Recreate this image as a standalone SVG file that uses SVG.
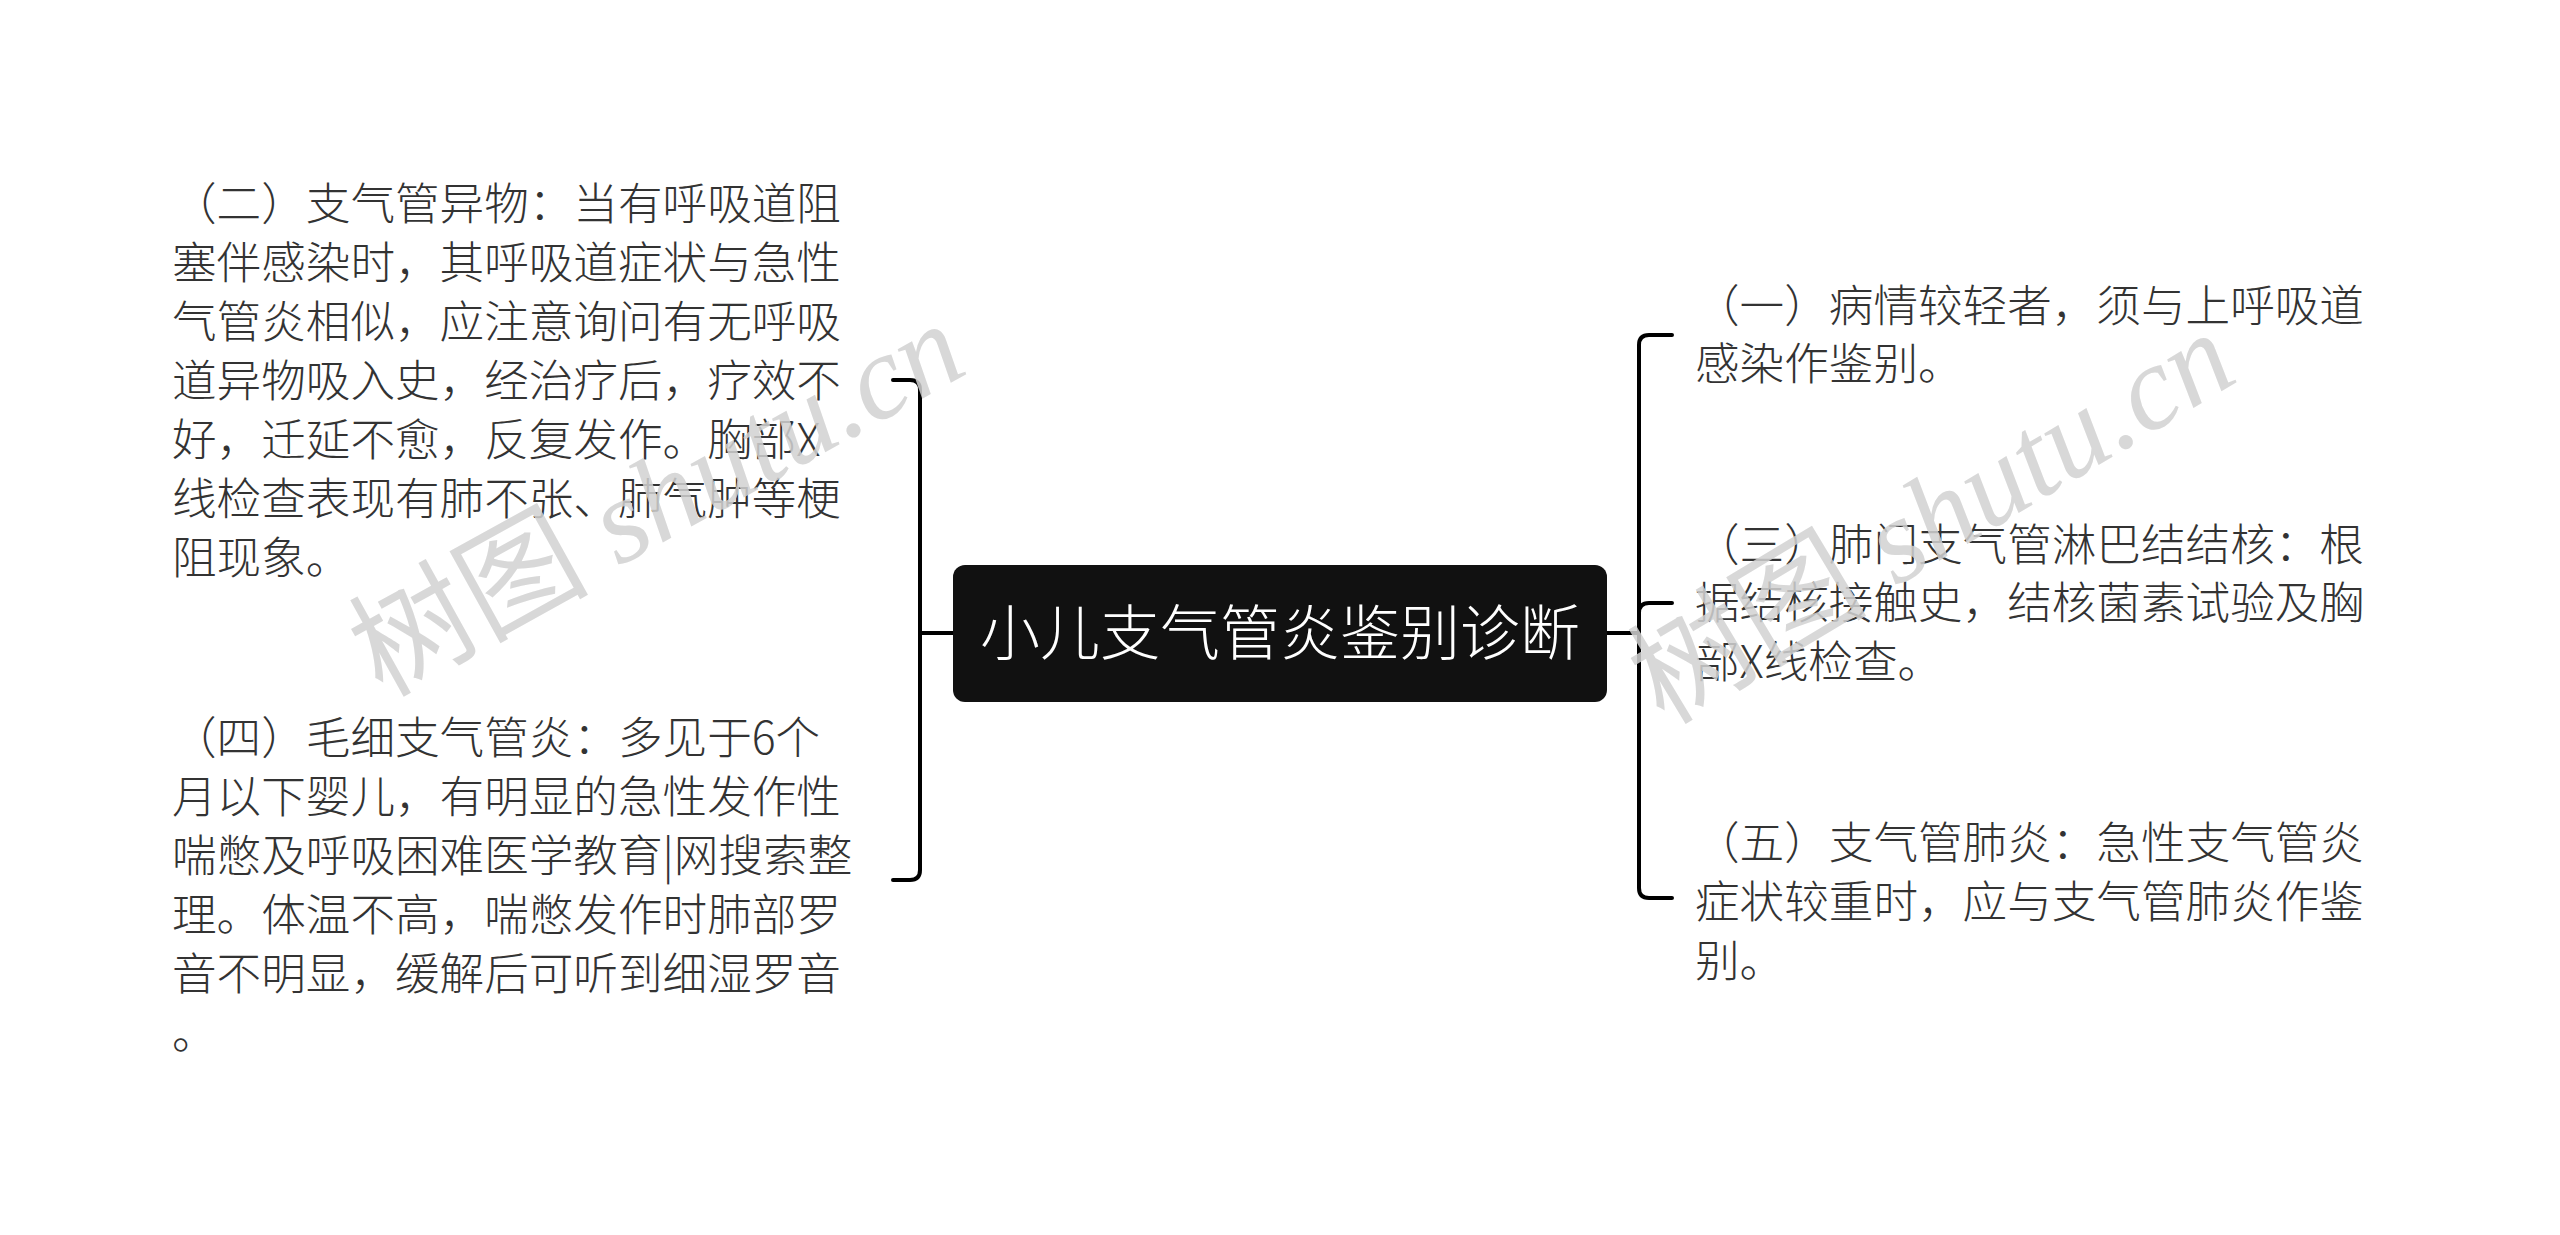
<svg xmlns="http://www.w3.org/2000/svg" width="2560" height="1235" viewBox="0 0 2560 1235">
<style>
.t{font-family:"Noto Sans CJK SC","Noto Sans",sans-serif;font-size:44.6px;font-weight:300;fill:#333333}
.c{font-family:"Noto Sans CJK SC","Noto Sans",sans-serif;font-size:60px;font-weight:300;fill:#ffffff}
.wm{font-family:"Liberation Serif","Noto Sans CJK SC",serif;font-size:120px;fill:#d2d2d2;opacity:0.85}
.wi{font-style:italic}
.ln{fill:none;stroke:#000000;stroke-width:4;stroke-linecap:round}
</style>
<rect width="2560" height="1235" fill="#ffffff"/>
<g id="connectors">
<path class="ln" d="M953,633 H920 M920,633 V390 Q920,380 910,380 H893 M920,633 V870 Q920,880 910,880 H893"/>
<path class="ln" d="M1607,633 H1639 M1639,633 V345 Q1639,335 1649,335 H1672 M1639,633 V613 Q1639,603 1649,603 H1672 M1639,633 V888 Q1639,898 1649,898 H1672"/>
</g>
<g id="root">
<rect x="953" y="565" width="654" height="137" rx="12" fill="#111111"/>
<text class="c" x="1280" y="655" text-anchor="middle">小儿支气管炎鉴别诊断</text>
</g>
<g id="node-2">
<text class="t" x="172" y="220">（二）支气管异物：当有呼吸道阻</text>
<text class="t" x="172" y="279">塞伴感染时，其呼吸道症状与急性</text>
<text class="t" x="172" y="338">气管炎相似，应注意询问有无呼吸</text>
<text class="t" x="172" y="397">道异物吸入史，经治疗后，疗效不</text>
<text class="t" x="172" y="456">好，迁延不愈，反复发作。胸部X</text>
<text class="t" x="172" y="515">线检查表现有肺不张、肺气肿等梗</text>
<text class="t" x="172" y="574">阻现象。</text>
</g>
<g id="node-4">
<text class="t" x="172" y="754">（四）毛细支气管炎：多见于6个</text>
<text class="t" x="172" y="813">月以下婴儿，有明显的急性发作性</text>
<text class="t" x="172" y="872">喘憋及呼吸困难医学教育|网搜索整</text>
<text class="t" x="172" y="931">理。体温不高，喘憋发作时肺部罗</text>
<text class="t" x="172" y="990">音不明显，缓解后可听到细湿罗音</text>
<text class="t" x="172" y="1049">。</text>
</g>
<g id="node-1">
<text class="t" x="1695" y="322">（一）病情较轻者，须与上呼吸道</text>
<text class="t" x="1695" y="380">感染作鉴别。</text>
</g>
<g id="node-3">
<text class="t" x="1695" y="561">（三）肺门支气管淋巴结结核：根</text>
<text class="t" x="1695" y="619">据结核接触史，结核菌素试验及胸</text>
<text class="t" x="1695" y="678">部X线检查。</text>
</g>
<g id="node-5">
<text class="t" x="1695" y="859">（五）支气管肺炎：急性支气管炎</text>
<text class="t" x="1695" y="918">症状较重时，应与支气管肺炎作鉴</text>
<text class="t" x="1695" y="977">别。</text>
</g>
<text class="wm" x="382" y="698" transform="rotate(-29 382 698)">树图 <tspan class="wi">shutu.cn</tspan></text>
<text class="wm" x="1664" y="726" transform="rotate(-31 1664 726)">树图 <tspan class="wi">shutu.cn</tspan></text>
</svg>
